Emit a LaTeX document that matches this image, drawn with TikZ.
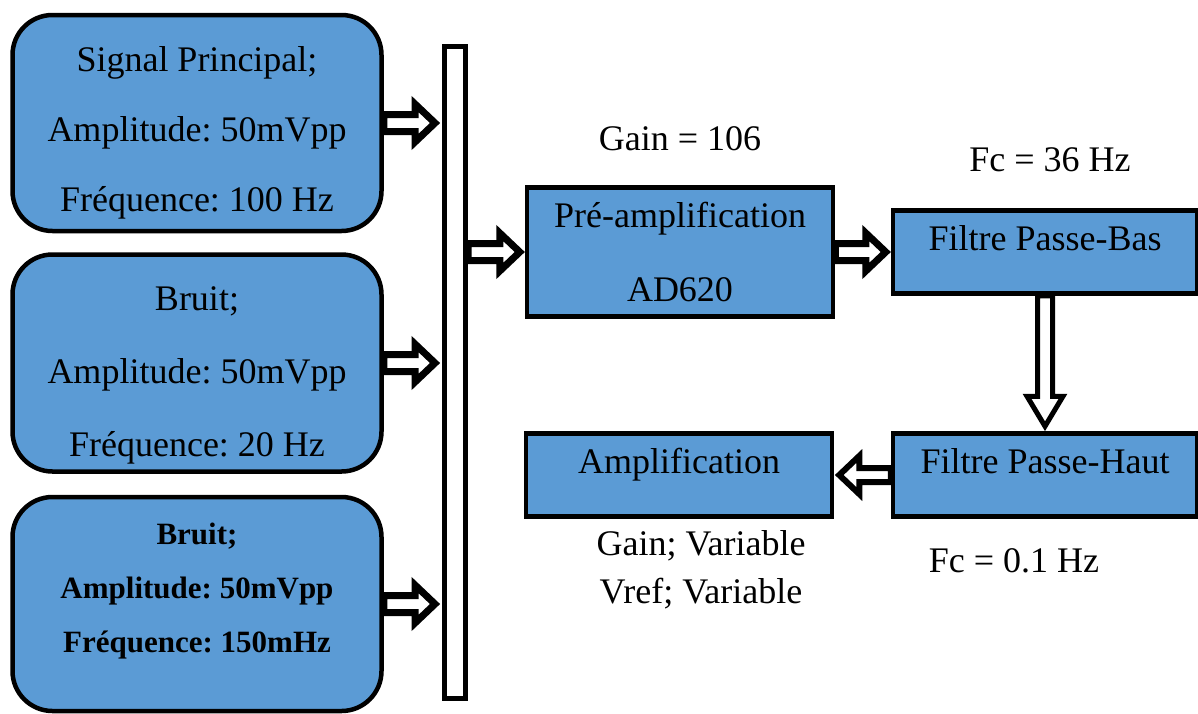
\documentclass[tikz,border=0pt]{standalone}
\usepackage{fontspec}
\setmainfont{Liberation Serif}
\usetikzlibrary{calc,positioning}
\definecolor{blockblue}{RGB}{91,155,213}
\frenchspacing

% block arrow: line width, shaft, head, head length, from, to
\newcommand{\blockarrow}[6]{%
  \coordinate (ba-base) at ($(#6)!#4!(#5)$);
  \draw[hollowline,line width=#1] ($(#5)!#2!90:(#6)$) -- ($(ba-base)!#2!90:(#6)$)
    -- ($(ba-base)!#3!90:(#6)$) -- (#6) -- ($(ba-base)!#3!-90:(#6)$)
    -- ($(ba-base)!#2!-90:(#6)$) -- ($(#5)!#2!-90:(#6)$) -- cycle;}

\begin{document}
\begin{tikzpicture}[x=1pt,y=-1pt,
  every node/.style={font=\fontsize{36}{43}\selectfont},
  srcbox/.style={draw,line width=4.5pt,fill=blockblue,rounded corners=40pt,
    minimum width=369pt,inner sep=0pt},
  blockbase/.style={draw,line width=4.5pt,fill=blockblue,minimum height=83pt},
  block/.style={blockbase,text height=20pt,text depth=24pt},
  hollowline/.style={draw=black,fill=white,line join=miter},
  note/.style={inner sep=0pt,align=center}]
\useasboundingbox (0,0) rectangle (1198,713);

% sources
\node[srcbox,minimum height=216pt,
  label={[note,yshift=-10pt]center:Signal Principal;\\[27pt]Amplitude: 50mVpp\\[27pt]Fréquence: 100 Hz}]
  (signal) at (197,123) {};
\node[srcbox,minimum height=217pt,
  label={[note,yshift=-12pt]center:Bruit;\\[30pt]Amplitude: 50mVpp\\[30pt]Fréquence: 20 Hz}]
  (bruitA) at (197,363) {};
\node[srcbox,minimum height=214pt,
  label={[note,yshift=13pt,font=\fontsize{31}{37}\selectfont\bfseries]center:Bruit;\\[17pt]Amplitude: 50mVpp\\[17pt]Fréquence: 150mHz}]
  (bruitB) at (197,604) {};

% bus
\node[draw,line width=5pt,fill=white,minimum width=21pt,minimum height=652pt,inner sep=0pt] (bus) at (455,372) {};

% chain
\node[blockbase,minimum width=306pt,align=center,minimum height=129pt] (preamp) at (680,252)
  {Pré-amplification\\[31pt]AD620};
\node[block,minimum width=304pt] (passebas) at (1045,252) {Filtre Passe-Bas};
\node[block,minimum width=304pt] (passehaut) at (1045,475) {Filtre Passe-Haut};
\node[block,minimum width=306pt] (ampli) at (679,475) {Amplification};

% labels
\node[note,above=34pt of preamp] (gain) {Gain = 106};
\node[note,above=36pt of passebas,xshift=5pt] (fcbas) {Fc = 36 Hz};
\node[note,below=12pt of ampli,xshift=22pt] (reglage) {Gain; Variable\\[5pt]Vref; Variable};
\node[note,below=30pt of passehaut,xshift=-31pt] (fchaut) {Fc = 0.1 Hz};

% arrow ends
\coordinate (in1) at ([xshift=-7pt]bus.west |- signal.east);
\coordinate (in2) at ([xshift=-7pt]bus.west |- bruitA.east);
\coordinate (in3) at ([xshift=-7pt]bus.west |- bruitB.east);
\coordinate (out) at (bus.east |- preamp.west);
\coordinate (pre) at ([xshift=-5pt]preamp.west);
\coordinate (pb) at ([xshift=-5pt]passebas.west);
\coordinate (ph) at ([yshift=5pt]passehaut.north);
\coordinate (amp) at ([xshift=5pt]ampli.east);

% arrows
\blockarrow{7pt}{8.5pt}{19pt}{20pt}{signal.east}{in1}
\blockarrow{7pt}{8.5pt}{19pt}{20pt}{bruitA.east}{in2}
\blockarrow{7pt}{8.5pt}{19pt}{20pt}{bruitB.east}{in3}
\blockarrow{7pt}{8.5pt}{19pt}{20pt}{out}{pre}
\blockarrow{7pt}{8.5pt}{19pt}{20pt}{preamp.east}{pb}
\blockarrow{5pt}{7.5pt}{18pt}{30pt}{passebas.south}{ph}
\blockarrow{6pt}{7pt}{19pt}{20pt}{passehaut.west}{amp}
\end{tikzpicture}
\end{document}
